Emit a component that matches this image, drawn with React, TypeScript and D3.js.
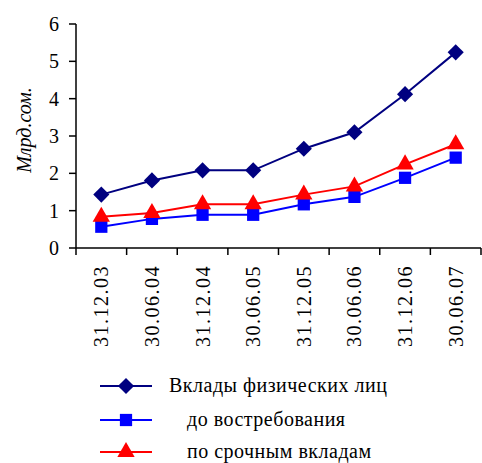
import React from "react";
import * as d3 from "d3";

const categories = ["31.12.03", "30.06.04", "31.12.04", "30.06.05", "31.12.05", "30.06.06", "31.12.06", "30.06.07"];
const totalDeposits = [1.43, 1.81, 2.08, 2.08, 2.66, 3.1, 4.12, 5.24];
const demandDeposits = [0.57, 0.78, 0.89, 0.89, 1.17, 1.37, 1.88, 2.42];
const termDeposits = [0.84, 0.94, 1.17, 1.17, 1.43, 1.65, 2.24, 2.78];
const yTicks = [0, 1, 2, 3, 4, 5, 6];
const seriesNames = ["Вклады физических лиц", "до востребования", "по срочным вкладам"];

const W = 482, H = 463;
const left = 76, right = 481, top = 24, bottom = 248;
const F = '"Liberation Serif", "Times New Roman", Tinos, serif';

export default function App() {
  const x = d3.scaleBand<string>().domain(categories).range([left, right]);
  const y = d3.scaleLinear().domain([0, 6]).range([bottom, top]);
  const cx = (c: string) => (x(c) as number) + x.bandwidth() / 2;
  const line = d3.line<[string, number]>().x(d => cx(d[0])).y(d => y(d[1]));

  const series = [
    { name: seriesNames[0], values: totalDeposits, color: "#000080", kind: "diamond", size: 130 },
    { name: seriesNames[1], values: demandDeposits, color: "#0000FF", kind: "square", size: 150 },
    { name: seriesNames[2], values: termDeposits, color: "#FF0000", kind: "triangle", size: 130 },
  ];
  const order = [1, 2, 0];
  const pathFor = (s: typeof series[0]) => {
    if (s.kind === "diamond") {
      const r = Math.sqrt(s.size / 2);
      return `M0,${-r}L${r},0L0,${r}L${-r},0Z`;
    }
    const type = s.kind === "square" ? d3.symbolSquare : d3.symbolTriangle;
    return d3.symbol().type(type).size(s.size)() as string;
  };
  const legendY = [386, 420, 452];
  const ticksX = [left, ...categories.map(c => (x(c) as number) + x.bandwidth())];

  return (
    <svg className="chart" width={W} height={H} style={{ position: "absolute", left: 0, top: 0, background: "#fff" }}>
      <style>{`svg.chart text { font-family: ${F} !important; font-size: 20px; }`}</style>
      <line x1={left} x2={left} y1={top} y2={bottom} stroke="#000" strokeWidth={1.5} />
      <line x1={left} x2={right} y1={bottom} y2={bottom} stroke="#000" strokeWidth={1.5} />
      {yTicks.map(t => (
        <g key={t}>
          <line x1={left - 7} x2={left} y1={y(t)} y2={y(t)} stroke="#000" strokeWidth={1.5} />
          <text x={left - 17} y={y(t)} dy="0.35em" textAnchor="end">{t}</text>
        </g>
      ))}
      {ticksX.map((tx, i) => (
        <line key={i} x1={tx} x2={tx} y1={bottom} y2={bottom + 7} stroke="#000" strokeWidth={1.5} />
      ))}
      {categories.map(c => (
        <text key={c} transform={`translate(${cx(c) + 7},${265}) rotate(-90)`} textAnchor="end" letterSpacing={1.5}>{c}</text>
      ))}
      <text transform={`translate(31,${130}) rotate(-90)`} textAnchor="middle" fontStyle="italic">Млрд.сом.</text>
      {order.map(i => {
        const s = series[i];
        const pts = categories.map((c, j) => [c, s.values[j]] as [string, number]);
        return <path key={s.name} d={line(pts) as string} fill="none" stroke={s.color} strokeWidth={2} />;
      })}
      {order.map(i => {
        const s = series[i];
        return (
          <g key={s.name + "m"}>
            {categories.map((c, j) => (
              <path key={c} transform={`translate(${cx(c)},${y(s.values[j])})`} d={pathFor(s)} fill={s.color} />
            ))}
          </g>
        );
      })}
      {series.map((s, i) => (
        <g key={s.name + "l"}>
          <line x1={100} x2={152} y1={legendY[i]} y2={legendY[i]} stroke={s.color} strokeWidth={2} />
          <path transform={`translate(126,${legendY[i]})`} d={pathFor(s)} fill={s.color} />
          <text x={i === 0 ? 169 : 187} y={legendY[i]} dy="0.3em" letterSpacing={0.5}>{s.name}</text>
        </g>
      ))}
    </svg>
  );
}
